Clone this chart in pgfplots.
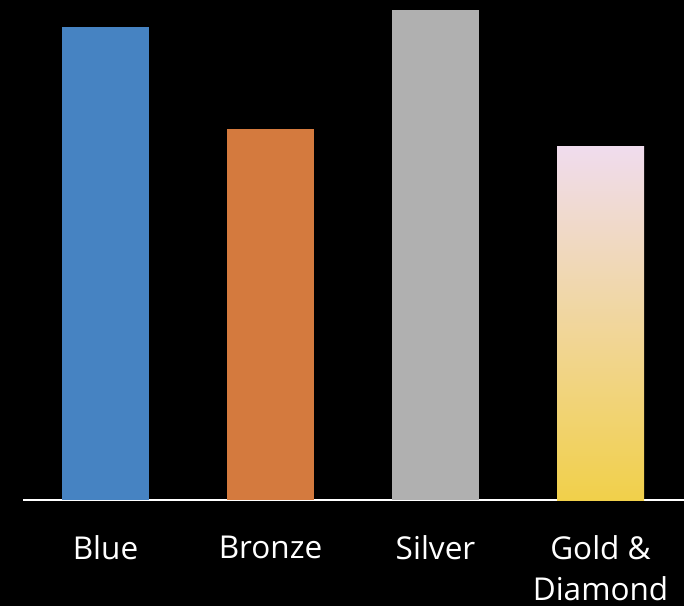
\documentclass[border=0pt]{standalone}
\usepackage{pgfplots}
\pgfplotsset{compat=1.18}
\usepackage{fontspec}
\setmainfont{Open Sans}
\definecolor{cblue}{HTML}{4683C2}
\definecolor{cbronze}{HTML}{D47A3E}
\definecolor{csilver}{HTML}{B0B0B0}
\definecolor{gtop}{HTML}{F0DCEE}
\definecolor{gmid}{HTML}{F0D4B8}
\definecolor{gbot}{HTML}{F1D04A}
\begin{document}
\begin{tikzpicture}
\fill[black] (0,0) rectangle (684pt,606pt);
\useasboundingbox (0,0) rectangle (684pt,606pt);
\begin{axis}[
  at={(23pt,106pt)}, anchor=south west,
  scale only axis, width=661pt, height=500pt,
  xmin=-0.5, xmax=3.506, ymin=0, ymax=500,
  axis y line=none, axis x line*=bottom,
  axis line style={white, line width=2pt, -},
  xtick={0,1,2,3}, xtick style={draw=none},
  xticklabels={Blue,Bronze,Silver,{Gold \&\\Diamond}},
  xticklabel style={white, font=\fontsize{31.5}{41}\selectfont, align=center, yshift=-28pt, anchor=north},
  ybar, bar width=87pt, bar shift=0pt,
  clip=false,
]
\addplot[fill=cblue, draw=none] coordinates {(0,473)};
\addplot[fill=cbronze, draw=none] coordinates {(1,371)};
\addplot[fill=csilver, draw=none] coordinates {(2,490)};
\addplot[draw=none, top color=gtop, middle color=gmid, bottom color=gbot] coordinates {(3,354)};
\end{axis}
\end{tikzpicture}
\end{document}
